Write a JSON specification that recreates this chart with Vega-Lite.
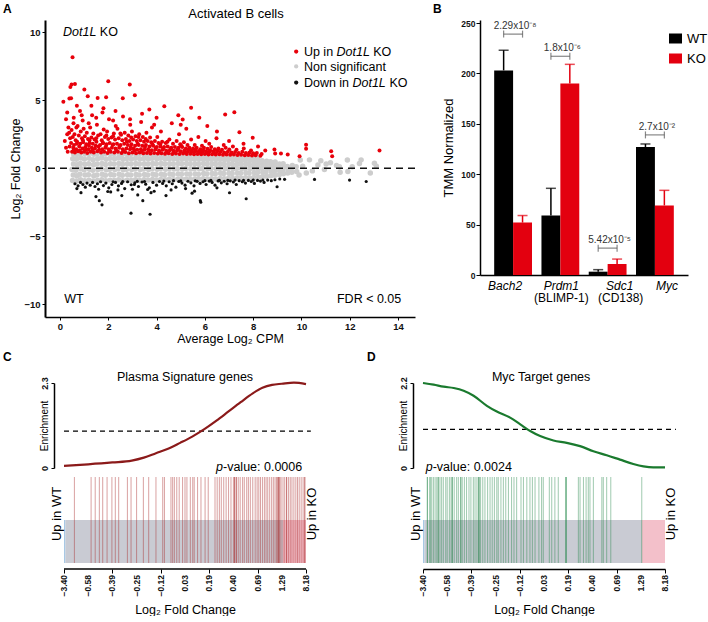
{
"$schema": "https://vega.github.io/schema/vega-lite/v6.json",
"padding": {"left": 2, "top": 3, "right": 0, "bottom": 0},
"config": {
 "font": "Liberation Sans",
 "view": {"stroke": null},
 "axis": {"grid": false, "domainColor": "#000", "tickColor": "#000", "labelColor": "#111", "titleColor": "#000", "titleFontWeight": "normal", "labelFontWeight": "bold", "labelFont": "Liberation Sans", "titleFont": "Liberation Sans"}
},
"datasets": {
 "ns": [
{"x":0.52,"y":-0.9},{"x":0.55,"y":-0.5},{"x":0.5,"y":-0.1},{"x":0.56,"y":0.3},{"x":0.53,"y":0.7},{"x":0.57,"y":1.02},
{"x":0.68,"y":-0.95},{"x":0.7,"y":-0.55},{"x":0.66,"y":-0.15},{"x":0.71,"y":0.25},{"x":0.68,"y":0.65},{"x":0.7,"y":1.0},
{"x":0.85,"y":-0.85},{"x":0.83,"y":-0.45},{"x":0.87,"y":-0.05},{"x":0.84,"y":0.35},{"x":0.86,"y":0.75},{"x":0.83,"y":1.08},
{"x":1.02,"y":-0.92},{"x":1.04,"y":-0.5},{"x":1.0,"y":-0.12},{"x":1.03,"y":0.28},{"x":1.01,"y":0.68},{"x":1.04,"y":1.05},
{"x":1.2,"y":-0.88},{"x":1.18,"y":-0.48},{"x":1.22,"y":-0.08},{"x":1.19,"y":0.32},{"x":1.21,"y":0.72},{"x":1.18,"y":1.06},
{"x":1.38,"y":-0.95},{"x":1.4,"y":-0.55},{"x":1.36,"y":-0.15},{"x":1.39,"y":0.25},{"x":1.37,"y":0.62},{"x":1.4,"y":1.02},
{"x":1.55,"y":-0.9},{"x":1.53,"y":-0.5},{"x":1.57,"y":-0.1},{"x":1.54,"y":0.3},{"x":1.56,"y":0.7},{"x":1.53,"y":1.05},
{"x":1.73,"y":-0.85},{"x":1.75,"y":-0.45},{"x":1.71,"y":-0.05},{"x":1.74,"y":0.35},{"x":1.72,"y":0.75},{"x":1.75,"y":1.0},
{"x":1.9,"y":-0.93},{"x":1.88,"y":-0.52},{"x":1.92,"y":-0.12},{"x":1.89,"y":0.27},{"x":1.91,"y":0.66},{"x":1.88,"y":1.04},
{"x":2.08,"y":-0.88},{"x":2.1,"y":-0.47},{"x":2.06,"y":-0.08},{"x":2.09,"y":0.33},{"x":2.07,"y":0.72},{"x":2.1,"y":1.05},
{"x":2.25,"y":-0.9},{"x":2.23,"y":-0.5},{"x":2.27,"y":-0.1},{"x":2.24,"y":0.3},{"x":2.26,"y":0.7},{"x":2.23,"y":1.02},
{"x":2.43,"y":-0.86},{"x":2.45,"y":-0.45},{"x":2.41,"y":-0.05},{"x":2.44,"y":0.35},{"x":2.42,"y":0.74},{"x":2.45,"y":1.04},
{"x":2.6,"y":-0.92},{"x":2.58,"y":-0.52},{"x":2.62,"y":-0.12},{"x":2.59,"y":0.28},{"x":2.61,"y":0.66},{"x":2.58,"y":1.0},
{"x":2.78,"y":-0.88},{"x":2.8,"y":-0.48},{"x":2.76,"y":-0.08},{"x":2.79,"y":0.32},{"x":2.77,"y":0.71},{"x":2.8,"y":1.03},
{"x":2.95,"y":-0.9},{"x":2.93,"y":-0.5},{"x":2.97,"y":-0.1},{"x":2.94,"y":0.3},{"x":2.96,"y":0.68},{"x":2.93,"y":1.02},
{"x":3.13,"y":-0.85},{"x":3.15,"y":-0.46},{"x":3.11,"y":-0.06},{"x":3.14,"y":0.34},{"x":3.12,"y":0.72},{"x":3.15,"y":1.0},
{"x":3.3,"y":-0.9},{"x":3.28,"y":-0.5},{"x":3.32,"y":-0.1},{"x":3.29,"y":0.3},{"x":3.31,"y":0.68},{"x":3.28,"y":1.02},
{"x":3.48,"y":-0.86},{"x":3.5,"y":-0.47},{"x":3.46,"y":-0.07},{"x":3.49,"y":0.33},{"x":3.47,"y":0.71},{"x":3.5,"y":0.98},
{"x":3.65,"y":-0.88},{"x":3.63,"y":-0.5},{"x":3.67,"y":-0.1},{"x":3.64,"y":0.3},{"x":3.66,"y":0.68},{"x":3.63,"y":1.0},
{"x":3.83,"y":-0.84},{"x":3.85,"y":-0.45},{"x":3.81,"y":-0.05},{"x":3.84,"y":0.35},{"x":3.82,"y":0.72},{"x":3.85,"y":0.97},
{"x":4.0,"y":-0.87},{"x":3.98,"y":-0.48},{"x":4.02,"y":-0.08},{"x":3.99,"y":0.32},{"x":4.01,"y":0.7},{"x":3.98,"y":0.98},
{"x":4.18,"y":-0.83},{"x":4.2,"y":-0.44},{"x":4.16,"y":-0.04},{"x":4.19,"y":0.34},{"x":4.17,"y":0.72},{"x":4.2,"y":0.95},
{"x":4.35,"y":-0.86},{"x":4.33,"y":-0.48},{"x":4.37,"y":-0.08},{"x":4.34,"y":0.3},{"x":4.36,"y":0.67},{"x":4.33,"y":0.96},
{"x":4.53,"y":-0.82},{"x":4.55,"y":-0.43},{"x":4.51,"y":-0.05},{"x":4.54,"y":0.33},{"x":4.52,"y":0.7},{"x":4.55,"y":0.94},
{"x":4.7,"y":-0.85},{"x":4.68,"y":-0.46},{"x":4.72,"y":-0.07},{"x":4.69,"y":0.31},{"x":4.71,"y":0.68},{"x":4.68,"y":0.95},
{"x":4.88,"y":-0.82},{"x":4.9,"y":-0.43},{"x":4.86,"y":-0.04},{"x":4.89,"y":0.34},{"x":4.87,"y":0.7},{"x":4.9,"y":0.92},
{"x":5.05,"y":-0.84},{"x":5.03,"y":-0.45},{"x":5.07,"y":-0.06},{"x":5.04,"y":0.32},{"x":5.06,"y":0.68},{"x":5.03,"y":0.94},
{"x":5.23,"y":-0.8},{"x":5.25,"y":-0.42},{"x":5.21,"y":-0.03},{"x":5.24,"y":0.34},{"x":5.22,"y":0.69},{"x":5.25,"y":0.91},
{"x":5.4,"y":-0.83},{"x":5.38,"y":-0.44},{"x":5.42,"y":-0.06},{"x":5.39,"y":0.3},{"x":5.41,"y":0.66},{"x":5.38,"y":0.93},
{"x":5.58,"y":-0.8},{"x":5.6,"y":-0.42},{"x":5.56,"y":-0.04},{"x":5.59,"y":0.33},{"x":5.57,"y":0.68},{"x":5.6,"y":0.9},
{"x":5.75,"y":-0.82},{"x":5.73,"y":-0.44},{"x":5.77,"y":-0.05},{"x":5.74,"y":0.31},{"x":5.76,"y":0.66},{"x":5.73,"y":0.92},
{"x":5.93,"y":-0.78},{"x":5.95,"y":-0.4},{"x":5.91,"y":-0.02},{"x":5.94,"y":0.34},{"x":5.92,"y":0.68},{"x":5.95,"y":0.89},
{"x":6.1,"y":-0.8},{"x":6.08,"y":-0.42},{"x":6.12,"y":-0.05},{"x":6.09,"y":0.3},{"x":6.11,"y":0.64},{"x":6.08,"y":0.9},
{"x":6.28,"y":-0.77},{"x":6.3,"y":-0.4},{"x":6.26,"y":-0.03},{"x":6.29,"y":0.32},{"x":6.27,"y":0.66},{"x":6.3,"y":0.87},
{"x":6.45,"y":-0.79},{"x":6.43,"y":-0.41},{"x":6.47,"y":-0.05},{"x":6.44,"y":0.3},{"x":6.46,"y":0.63},{"x":6.43,"y":0.88},
{"x":6.63,"y":-0.76},{"x":6.65,"y":-0.38},{"x":6.61,"y":-0.02},{"x":6.64,"y":0.32},{"x":6.62,"y":0.65},{"x":6.65,"y":0.85},
{"x":6.8,"y":-0.78},{"x":6.78,"y":-0.4},{"x":6.82,"y":-0.04},{"x":6.79,"y":0.29},{"x":6.81,"y":0.62},{"x":6.78,"y":0.86},
{"x":6.98,"y":-0.75},{"x":7.0,"y":-0.38},{"x":6.96,"y":-0.02},{"x":6.99,"y":0.31},{"x":6.97,"y":0.63},{"x":7.0,"y":0.84},
{"x":7.15,"y":-0.76},{"x":7.13,"y":-0.39},{"x":7.17,"y":-0.04},{"x":7.14,"y":0.28},{"x":7.16,"y":0.6},{"x":7.13,"y":0.84},
{"x":7.33,"y":-0.73},{"x":7.35,"y":-0.36},{"x":7.31,"y":-0.01},{"x":7.34,"y":0.3},{"x":7.32,"y":0.62},{"x":7.35,"y":0.82},
{"x":7.5,"y":-0.74},{"x":7.48,"y":-0.37},{"x":7.52,"y":-0.03},{"x":7.49,"y":0.28},{"x":7.51,"y":0.58},{"x":7.48,"y":0.8},
{"x":7.68,"y":-0.7},{"x":7.7,"y":-0.34},{"x":7.66,"y":0.0},{"x":7.69,"y":0.3},{"x":7.67,"y":0.6},{"x":7.7,"y":0.78},
{"x":7.85,"y":-0.72},{"x":7.83,"y":-0.36},{"x":7.87,"y":-0.02},{"x":7.84,"y":0.27},{"x":7.86,"y":0.56},{"x":7.83,"y":0.8},
{"x":8.03,"y":-0.68},{"x":8.05,"y":-0.33},{"x":8.01,"y":0.0},{"x":8.04,"y":0.28},{"x":8.02,"y":0.58},{"x":8.05,"y":0.76},
{"x":8.2,"y":-0.66},{"x":8.18,"y":-0.32},{"x":8.22,"y":-0.02},{"x":8.19,"y":0.26},{"x":8.21,"y":0.54},{"x":8.18,"y":0.74},
{"x":8.38,"y":-0.64},{"x":8.4,"y":-0.3},{"x":8.36,"y":0.0},{"x":8.39,"y":0.28},{"x":8.37,"y":0.55},
{"x":8.55,"y":-0.6},{"x":8.53,"y":-0.28},{"x":8.57,"y":-0.02},{"x":8.54,"y":0.25},{"x":8.56,"y":0.5},
{"x":8.73,"y":-0.56},{"x":8.75,"y":-0.25},{"x":8.71,"y":0.02},{"x":8.74,"y":0.26},{"x":8.72,"y":0.48},
{"x":8.9,"y":-0.52},{"x":8.88,"y":-0.22},{"x":8.92,"y":0.0},{"x":8.89,"y":0.24},{"x":8.91,"y":0.45},
{"x":9.08,"y":-0.48},{"x":9.1,"y":-0.2},{"x":9.06,"y":0.04},{"x":9.09,"y":0.3},
{"x":9.25,"y":-0.42},{"x":9.23,"y":-0.15},{"x":9.27,"y":0.08},{"x":9.24,"y":0.32},
{"x":9.43,"y":-0.35},{"x":9.45,"y":-0.1},{"x":9.41,"y":0.12},
{"x":9.6,"y":-0.3},{"x":9.58,"y":0.0},{"x":9.62,"y":0.2},
{"x":9.8,"y":-0.25},{"x":9.78,"y":0.1},
{"x":10.05,"y":0.15},{"x":10.2,"y":-0.35},{"x":10.33,"y":0.61},{"x":10.45,"y":-0.2},{"x":10.68,"y":0.24},{"x":10.8,"y":0.55},{"x":10.95,"y":-0.1},{"x":11.02,"y":0.3},{"x":11.2,"y":0.4},{"x":11.45,"y":0.2},{"x":11.57,"y":0.11},{"x":11.6,"y":-0.3},{"x":11.92,"y":-0.25},{"x":11.9,"y":0.6},{"x":12.1,"y":0.1},{"x":12.47,"y":0.61},{"x":12.4,"y":0.35},{"x":12.85,"y":-0.35},{"x":13.02,"y":0.36},{"x":13.1,"y":0.15},{"x":9.95,"y":0.6},{"x":9.9,"y":-0.5}
 ],
 "up": [
{"x":0.5,"y":1.2},{"x":0.55,"y":1.5},{"x":0.46,"y":1.85},{"x":0.53,"y":2.3},{"x":0.48,"y":2.8},{"x":0.56,"y":3.3},
{"x":0.62,"y":1.15},{"x":0.67,"y":1.4},{"x":0.58,"y":1.7},{"x":0.65,"y":2.05},{"x":0.6,"y":2.5},{"x":0.68,"y":3.0},{"x":0.57,"y":3.7},
{"x":0.75,"y":1.25},{"x":0.8,"y":1.6},{"x":0.71,"y":1.95},{"x":0.78,"y":2.4},{"x":0.73,"y":3.1},
{"x":0.88,"y":1.15},{"x":0.93,"y":1.45},{"x":0.84,"y":1.8},{"x":0.91,"y":2.2},{"x":0.86,"y":2.7},{"x":0.94,"y":3.5},{"x":0.83,"y":4.2},
{"x":1.0,"y":1.2},{"x":1.05,"y":1.55},{"x":0.96,"y":1.9},{"x":1.03,"y":2.35},{"x":0.98,"y":2.9},
{"x":1.13,"y":1.12},{"x":1.18,"y":1.4},{"x":1.09,"y":1.75},{"x":1.16,"y":2.15},{"x":1.11,"y":2.6},{"x":1.19,"y":3.3},
{"x":1.27,"y":1.2},{"x":1.32,"y":1.5},{"x":1.23,"y":1.85},{"x":1.3,"y":2.25},{"x":1.25,"y":3.0},{"x":1.33,"y":3.9},
{"x":1.4,"y":1.15},{"x":1.45,"y":1.45},{"x":1.36,"y":1.8},{"x":1.43,"y":2.1},{"x":1.38,"y":2.55},
{"x":1.55,"y":1.25},{"x":1.6,"y":1.6},{"x":1.51,"y":1.95},{"x":1.58,"y":2.4},{"x":1.53,"y":3.2},
{"x":1.7,"y":1.15},{"x":1.75,"y":1.4},{"x":1.66,"y":1.7},{"x":1.73,"y":2.05},{"x":1.68,"y":2.5},{"x":1.76,"y":4.1},
{"x":1.83,"y":1.2},{"x":1.88,"y":1.5},{"x":1.79,"y":1.85},{"x":1.86,"y":2.3},{"x":1.81,"y":2.85},
{"x":1.97,"y":1.12},{"x":2.02,"y":1.4},{"x":1.93,"y":1.75},{"x":2.0,"y":2.15},{"x":1.95,"y":2.7},{"x":2.03,"y":3.6},
{"x":2.1,"y":1.2},{"x":2.15,"y":1.5},{"x":2.06,"y":1.85},{"x":2.13,"y":2.25},
{"x":2.25,"y":1.15},{"x":2.3,"y":1.45},{"x":2.21,"y":1.75},{"x":2.28,"y":2.1},{"x":2.23,"y":2.55},{"x":2.31,"y":3.1},
{"x":2.4,"y":1.2},{"x":2.45,"y":1.5},{"x":2.36,"y":1.8},{"x":2.43,"y":2.2},{"x":2.38,"y":2.9},
{"x":2.55,"y":1.12},{"x":2.6,"y":1.4},{"x":2.51,"y":1.7},{"x":2.58,"y":2.05},{"x":2.53,"y":2.45},{"x":2.61,"y":3.8},
{"x":2.7,"y":1.18},{"x":2.75,"y":1.45},{"x":2.66,"y":1.8},{"x":2.73,"y":2.15},{"x":2.68,"y":2.6},
{"x":2.85,"y":1.1},{"x":2.9,"y":1.4},{"x":2.81,"y":1.7},{"x":2.88,"y":2.0},{"x":2.83,"y":2.4},{"x":2.91,"y":3.2},
{"x":3.0,"y":1.15},{"x":3.05,"y":1.45},{"x":2.96,"y":1.75},{"x":3.03,"y":2.1},{"x":2.98,"y":2.7},
{"x":3.15,"y":1.1},{"x":3.2,"y":1.35},{"x":3.11,"y":1.65},{"x":3.18,"y":2.0},{"x":3.13,"y":2.35},
{"x":3.3,"y":1.15},{"x":3.35,"y":1.4},{"x":3.26,"y":1.7},{"x":3.33,"y":2.05},{"x":3.28,"y":2.5},{"x":3.36,"y":3.4},
{"x":3.45,"y":1.1},{"x":3.5,"y":1.35},{"x":3.41,"y":1.65},{"x":3.48,"y":1.95},{"x":3.43,"y":2.3},
{"x":3.6,"y":1.12},{"x":3.65,"y":1.4},{"x":3.56,"y":1.7},{"x":3.63,"y":2.0},{"x":3.58,"y":2.6},
{"x":3.75,"y":1.08},{"x":3.8,"y":1.32},{"x":3.71,"y":1.6},{"x":3.78,"y":1.9},{"x":3.73,"y":2.25},{"x":3.81,"y":3.0},
{"x":3.9,"y":1.12},{"x":3.95,"y":1.38},{"x":3.86,"y":1.65},{"x":3.93,"y":2.0},
{"x":4.05,"y":1.08},{"x":4.1,"y":1.3},{"x":4.01,"y":1.55},{"x":4.08,"y":1.85},{"x":4.03,"y":2.3},
{"x":4.2,"y":1.1},{"x":4.25,"y":1.35},{"x":4.16,"y":1.6},{"x":4.23,"y":1.95},{"x":4.18,"y":2.7},
{"x":4.35,"y":1.06},{"x":4.4,"y":1.28},{"x":4.31,"y":1.55},{"x":4.38,"y":1.85},
{"x":4.5,"y":1.1},{"x":4.55,"y":1.32},{"x":4.46,"y":1.6},{"x":4.53,"y":2.1},
{"x":4.65,"y":1.05},{"x":4.7,"y":1.28},{"x":4.61,"y":1.5},{"x":4.68,"y":1.8},{"x":4.63,"y":3.3},
{"x":4.8,"y":1.08},{"x":4.85,"y":1.3},{"x":4.76,"y":1.55},{"x":4.83,"y":2.0},
{"x":4.95,"y":1.05},{"x":5.0,"y":1.25},{"x":4.91,"y":1.5},{"x":4.98,"y":1.75},{"x":4.93,"y":2.5},
{"x":5.1,"y":1.08},{"x":5.15,"y":1.3},{"x":5.06,"y":1.55},{"x":5.13,"y":1.9},
{"x":5.25,"y":1.04},{"x":5.3,"y":1.25},{"x":5.21,"y":1.45},{"x":5.28,"y":1.7},{"x":5.23,"y":2.9},
{"x":5.4,"y":1.06},{"x":5.45,"y":1.28},{"x":5.36,"y":1.5},{"x":5.43,"y":2.1},
{"x":5.55,"y":1.03},{"x":5.6,"y":1.22},{"x":5.51,"y":1.45},{"x":5.58,"y":1.7},
{"x":5.7,"y":1.05},{"x":5.75,"y":1.25},{"x":5.66,"y":1.5},{"x":5.73,"y":2.3},
{"x":5.85,"y":1.02},{"x":5.9,"y":1.2},{"x":5.81,"y":1.4},{"x":5.88,"y":1.65},
{"x":6.0,"y":1.04},{"x":6.05,"y":1.25},{"x":5.96,"y":1.5},{"x":6.03,"y":2.0},
{"x":6.15,"y":1.0},{"x":6.2,"y":1.2},{"x":6.11,"y":1.42},{"x":6.18,"y":1.8},
{"x":6.3,"y":1.03},{"x":6.35,"y":1.22},{"x":6.26,"y":1.55},
{"x":6.45,"y":1.0},{"x":6.5,"y":1.18},{"x":6.41,"y":1.4},{"x":6.48,"y":2.2},
{"x":6.6,"y":1.02},{"x":6.65,"y":1.2},{"x":6.56,"y":1.45},
{"x":6.75,"y":0.98},{"x":6.8,"y":1.15},{"x":6.71,"y":1.35},{"x":6.78,"y":1.7},
{"x":6.9,"y":1.0},{"x":6.95,"y":1.2},{"x":6.86,"y":1.5},
{"x":7.05,"y":0.98},{"x":7.1,"y":1.15},{"x":7.01,"y":1.38},
{"x":7.2,"y":1.0},{"x":7.25,"y":1.18},{"x":7.16,"y":1.6},
{"x":7.35,"y":0.96},{"x":7.4,"y":1.12},{"x":7.31,"y":1.35},
{"x":7.5,"y":0.98},{"x":7.55,"y":1.2},
{"x":7.65,"y":0.95},{"x":7.7,"y":1.12},{"x":7.61,"y":1.45},
{"x":7.8,"y":0.96},{"x":7.85,"y":1.15},
{"x":7.95,"y":0.94},{"x":8.0,"y":1.1},{"x":7.91,"y":1.3},
{"x":8.1,"y":0.95},{"x":8.15,"y":1.12},
{"x":8.3,"y":0.92},{"x":8.35,"y":1.05},
{"x":0.57,"y":1.33},{"x":0.7,"y":1.8},{"x":0.82,"y":1.3},{"x":0.95,"y":2.05},{"x":1.07,"y":1.35},{"x":1.2,"y":1.65},{"x":1.22,"y":2.05},{"x":1.35,"y":1.3},{"x":1.48,"y":1.65},{"x":1.5,"y":2.2},{"x":1.62,"y":1.35},{"x":1.77,"y":1.85},{"x":1.9,"y":1.6},{"x":1.92,"y":2.4},{"x":2.05,"y":1.3},{"x":2.18,"y":1.7},{"x":2.2,"y":2.35},{"x":2.33,"y":1.3},{"x":2.47,"y":1.65},{"x":2.5,"y":2.55},{"x":2.62,"y":1.25},{"x":2.77,"y":1.95},{"x":2.93,"y":1.55},{"x":2.95,"y":2.25},{"x":3.08,"y":1.3},{"x":3.22,"y":1.8},{"x":3.25,"y":2.3},{"x":3.38,"y":1.25},{"x":3.52,"y":1.55},{"x":3.55,"y":2.15},{"x":3.68,"y":1.28},{"x":3.83,"y":1.75},{"x":3.97,"y":1.5},{"x":4.12,"y":1.2},{"x":4.15,"y":1.75},{"x":4.28,"y":1.45},{"x":4.42,"y":1.2},{"x":4.45,"y":1.95},{"x":4.58,"y":1.42},{"x":4.72,"y":1.18},{"x":4.88,"y":1.4},{"x":5.02,"y":1.65},{"x":5.18,"y":1.18},{"x":5.33,"y":1.38},{"x":5.48,"y":1.2},{"x":5.62,"y":1.35},{"x":5.78,"y":1.15},{"x":5.93,"y":1.32},{"x":6.08,"y":1.12},{"x":6.22,"y":1.32},{"x":6.38,"y":1.1},{"x":6.52,"y":1.3},{"x":0.4,"y":1.6},{"x":0.42,"y":2.2},{"x":0.38,"y":2.6},
{"x":0.52,"y":8.16},{"x":0.43,"y":5.98},{"x":0.62,"y":6.2},{"x":0.48,"y":6.15},{"x":1.01,"y":5.78},{"x":0.14,"y":4.88},{"x":0.39,"y":5.12},{"x":0.46,"y":5.15},{"x":2.0,"y":6.4},{"x":2.89,"y":6.15},{"x":1.56,"y":5.17},{"x":1.91,"y":5.22},{"x":3.1,"y":5.37},{"x":2.6,"y":5.15},{"x":1.15,"y":5.29},{"x":4.32,"y":4.56},{"x":3.7,"y":4.31},{"x":5.43,"y":4.44},{"x":6.84,"y":3.95},{"x":7.22,"y":4.12},{"x":5.77,"y":3.7},{"x":5.08,"y":3.58},{"x":7.43,"y":2.65},{"x":7.98,"y":2.23},{"x":8.88,"y":1.37},{"x":8.91,"y":1.08},{"x":9.43,"y":1.0},{"x":10.19,"y":1.72},{"x":10.19,"y":1.42},{"x":11.23,"y":1.25},{"x":11.27,"y":0.88},{"x":13.23,"y":1.3},{"x":9.92,"y":0.88},{"x":9.15,"y":1.08},
{"x":0.3,"y":4.1},{"x":0.25,"y":3.6},{"x":0.35,"y":3.0},{"x":0.3,"y":2.5},{"x":0.7,"y":4.6},{"x":1.3,"y":4.6},{"x":1.8,"y":4.4},{"x":2.3,"y":4.2},{"x":3.4,"y":4.0},{"x":4.0,"y":3.7},{"x":4.9,"y":3.9},{"x":6.1,"y":3.1},{"x":6.5,"y":2.7},{"x":5.0,"y":3.2},{"x":3.9,"y":3.2},{"x":2.9,"y":3.6},{"x":2.2,"y":3.5},{"x":1.5,"y":3.7},{"x":0.9,"y":3.9},{"x":0.2,"y":2.0},{"x":0.25,"y":1.5},{"x":0.32,"y":1.2},{"x":7.0,"y":2.0},{"x":7.6,"y":1.8},{"x":8.5,"y":1.3},{"x":8.2,"y":1.6}
 ],
 "dn": [
{"x":0.62,"y":-1.15},{"x":0.75,"y":-1.3},{"x":0.85,"y":-1.05},{"x":0.95,"y":-1.2},{"x":1.05,"y":-1.4},{"x":1.12,"y":-1.1},{"x":1.25,"y":-1.25},{"x":1.35,"y":-1.05},{"x":1.45,"y":-1.35},{"x":1.55,"y":-1.15},{"x":1.68,"y":-1.0},{"x":1.8,"y":-1.28},{"x":1.9,"y":-1.1},{"x":2.02,"y":-1.45},{"x":2.15,"y":-1.2},{"x":2.3,"y":-1.05},{"x":2.42,"y":-1.3},{"x":2.55,"y":-1.12},{"x":2.68,"y":-1.5},{"x":2.8,"y":-1.0},{"x":2.95,"y":-1.22},{"x":3.1,"y":-1.08},{"x":3.25,"y":-1.35},{"x":3.4,"y":-1.02},{"x":3.55,"y":-1.18},{"x":3.7,"y":-1.45},{"x":3.85,"y":-1.05},{"x":4.0,"y":-1.25},{"x":4.12,"y":-0.98},{"x":4.25,"y":-1.12},{"x":4.4,"y":-1.3},{"x":4.52,"y":-1.0},{"x":4.65,"y":-1.15},{"x":4.8,"y":-1.4},{"x":4.92,"y":-0.98},{"x":5.05,"y":-1.1},{"x":5.18,"y":-1.25},{"x":5.3,"y":-0.96},{"x":5.42,"y":-1.08},{"x":5.55,"y":-1.3},{"x":5.68,"y":-0.97},{"x":5.8,"y":-1.12},{"x":5.92,"y":-1.0},{"x":6.05,"y":-1.2},{"x":6.18,"y":-0.95},{"x":6.3,"y":-1.05},{"x":6.42,"y":-1.25},{"x":6.55,"y":-0.94},{"x":6.68,"y":-1.08},{"x":6.8,"y":-0.96},{"x":6.92,"y":-1.15},{"x":7.05,"y":-0.93},{"x":7.18,"y":-1.02},{"x":7.3,"y":-1.2},{"x":7.42,"y":-0.92},{"x":7.55,"y":-1.0},{"x":7.68,"y":-1.1},{"x":7.8,"y":-0.9},{"x":7.92,"y":-0.98},{"x":8.05,"y":-1.12},{"x":8.18,"y":-0.9},{"x":8.3,"y":-0.95},{"x":8.45,"y":-1.05},{"x":8.6,"y":-0.88},{"x":8.75,"y":-0.92},{"x":8.9,"y":-0.85},{"x":9.1,"y":-0.8},{"x":9.3,"y":-0.82},{"x":1.6,"y":-1.55},{"x":2.4,"y":-1.6},{"x":3.0,"y":-1.55},{"x":4.6,"y":-1.6},{"x":5.2,"y":-1.5},{"x":6.5,"y":-1.45},{"x":0.7,"y":-1.5},{"x":3.9,"y":-1.7},{"x":2.1,"y":-1.75},
{"x":4.3,"y":-0.95},{"x":4.7,"y":-0.92},{"x":5.0,"y":-0.94},{"x":5.6,"y":-0.93},{"x":6.0,"y":-0.92},{"x":6.25,"y":-0.9},{"x":6.6,"y":-0.9},{"x":6.95,"y":-0.9},{"x":7.25,"y":-0.88},{"x":7.6,"y":-0.9},{"x":8.0,"y":-0.88},{"x":8.4,"y":-0.87},{"x":3.5,"y":-0.98},{"x":3.2,"y":-0.97},{"x":2.6,"y":-0.98},{"x":2.2,"y":-1.0},
{"x":0.87,"y":-1.8},{"x":1.49,"y":-2.09},{"x":1.63,"y":-2.39},{"x":1.74,"y":-2.7},{"x":2.94,"y":-3.31},{"x":3.73,"y":-3.39},{"x":1.98,"y":-1.72},{"x":2.56,"y":-2.02},{"x":3.22,"y":-1.97},{"x":3.43,"y":-2.39},{"x":3.77,"y":-1.8},{"x":4.39,"y":-2.02},{"x":5.47,"y":-1.84},{"x":5.81,"y":-2.39},{"x":5.83,"y":-2.5},{"x":7.71,"y":-2.25},{"x":8.99,"y":-1.37},{"x":11.99,"y":-0.88},{"x":12.68,"y":-0.98},{"x":10.54,"y":-0.83},{"x":7.02,"y":-1.81},{"x":5.57,"y":-1.69},{"x":3.63,"y":-1.57},{"x":3.08,"y":-1.2}
 ],
 "bars": [
{"g":"Bach2","grp":"WT","v":203,"e":223},{"g":"Bach2","grp":"KO","v":52,"e":59},
{"g":"Prdm1","grp":"WT","v":59,"e":86},{"g":"Prdm1","grp":"KO","v":190,"e":209},
{"g":"Sdc1","grp":"WT","v":3.3,"e":5.3},{"g":"Sdc1","grp":"KO","v":10.9,"e":15.8},
{"g":"Myc","grp":"WT","v":127,"e":130},{"g":"Myc","grp":"KO","v":69,"e":84}
 ],
 "brk": [
{"g":"Bach2","b":239,"lab":"2.29x10⁻⁸"},{"g":"Prdm1","b":217,"lab":"1.8x10⁻⁶"},{"g":"Sdc1","b":26.6,"lab":"5.42x10⁻⁵"},{"g":"Myc","b":139,"lab":"2.7x10⁻²"}
 ],
 "brkEnd": [
{"g":"Bach2","grp":"WT","b":239},{"g":"Bach2","grp":"KO","b":239},{"g":"Prdm1","grp":"WT","b":217},{"g":"Prdm1","grp":"KO","b":217},
{"g":"Sdc1","grp":"WT","b":26.6},{"g":"Sdc1","grp":"KO","b":26.6},{"g":"Myc","grp":"WT","b":139},{"g":"Myc","grp":"KO","b":139}
 ],
 "seg": [{"a":0,"b":0.06,"k":"dn"},{"a":0.06,"b":9.05,"k":"ns"},{"a":9.05,"b":10,"k":"up"}],
 "upLab": [{"x":-0.27,"y":0.57,"t":"Up in WT"},{"x":10.26,"y":0.57,"t":"Up in KO"}],
 "tickLab": [{"r":0,"y":-0.14,"t":"−3.40"},{"r":1,"y":-0.14,"t":"−0.58"},{"r":2,"y":-0.14,"t":"−0.39"},{"r":3,"y":-0.14,"t":"−0.25"},{"r":4,"y":-0.14,"t":"−0.12"},{"r":5,"y":-0.14,"t":"0.03"},{"r":6,"y":-0.14,"t":"0.19"},{"r":7,"y":-0.14,"t":"0.40"},{"r":8,"y":-0.14,"t":"0.69"},{"r":9,"y":-0.14,"t":"1.29"},{"r":10,"y":-0.14,"t":"8.18"}],
 "cCurve": [{"r":0,"e":0.06},{"r":1,"e":0.1},{"r":2,"e":0.15},{"r":2.8,"e":0.2},{"r":3.3,"e":0.28},{"r":3.8,"e":0.4},{"r":4.3,"e":0.52},{"r":4.8,"e":0.68},{"r":5.3,"e":0.85},{"r":5.8,"e":1.05},{"r":6.3,"e":1.28},{"r":6.8,"e":1.53},{"r":7.3,"e":1.78},{"r":7.8,"e":2.02},{"r":8.2,"e":2.17},{"r":8.6,"e":2.25},{"r":9.0,"e":2.28},{"r":9.5,"e":2.31},{"r":10,"e":2.27}],
 "dCurve": [{"r":0,"e":2.2},{"r":0.44,"e":2.157},{"r":0.85,"e":2.104},{"r":1.27,"e":2.07},{"r":1.68,"e":2.0},{"r":2.09,"e":1.87},{"r":2.64,"e":1.609},{"r":3.05,"e":1.461},{"r":3.6,"e":1.304},{"r":4.02,"e":1.13},{"r":4.43,"e":0.957},{"r":4.84,"e":0.826},{"r":5.39,"e":0.713},{"r":5.94,"e":0.652},{"r":6.49,"e":0.565},{"r":7.04,"e":0.435},{"r":7.59,"e":0.33},{"r":8.14,"e":0.217},{"r":8.69,"e":0.104},{"r":9.11,"e":0.043},{"r":9.52,"e":0.017},{"r":10,"e":0.017}],
 "cLines": [{"r":0.43},{"r":1.12},{"r":1.29},{"r":1.46},{"r":1.6},{"r":1.78},{"r":1.98},{"r":2.12},{"r":2.26},{"r":2.62},{"r":2.77},{"r":3.0},{"r":3.28},{"r":3.5},{"r":3.8},{"r":4.08},{"r":4.15},{"r":4.42},{"r":4.49},{"r":4.56},{"r":4.66},{"r":4.76},{"r":4.9},{"r":5.0},{"r":5.08},{"r":5.22},{"r":5.32},{"r":5.38},{"r":5.52},{"r":5.66},{"r":5.83},{"r":5.96},{"r":6.24},{"r":6.33},{"r":6.42},{"r":6.5},{"r":6.6},{"r":6.7},{"r":6.8},{"r":6.9},{"r":7.0},{"r":7.05},{"r":7.12},{"r":7.2},{"r":7.28},{"r":7.38},{"r":7.45},{"r":7.55},{"r":7.62},{"r":7.7},{"r":7.8},{"r":7.9},{"r":7.98},{"r":8.05},{"r":8.12},{"r":8.2},{"r":8.28},{"r":8.35},{"r":8.42},{"r":8.5},{"r":8.58},{"r":8.65},{"r":8.72},{"r":8.78},{"r":8.84},{"r":8.88},{"r":8.92},{"r":8.97},{"r":9.05},{"r":9.12},{"r":9.2},{"r":9.28},{"r":9.35},{"r":9.42},{"r":9.5},{"r":9.58},{"r":9.65},{"r":9.72},{"r":9.8},{"r":9.88},{"r":9.95},{"r":7.05},{"r":7.12},{"r":8.84},{"r":8.88},{"r":9.2},{"r":9.95}],
 "dLines": [{"r":0.18},{"r":0.29},{"r":0.36},{"r":0.43},{"r":0.5},{"r":0.57},{"r":0.63},{"r":0.7},{"r":0.77},{"r":0.84},{"r":0.94},{"r":1.0},{"r":1.09},{"r":1.16},{"r":1.21},{"r":1.29},{"r":1.39},{"r":1.46},{"r":1.56},{"r":1.62},{"r":1.71},{"r":1.8},{"r":1.9},{"r":1.98},{"r":2.08},{"r":2.15},{"r":2.23},{"r":2.31},{"r":2.38},{"r":2.47},{"r":2.56},{"r":2.67},{"r":2.77},{"r":2.86},{"r":2.95},{"r":3.05},{"r":3.11},{"r":3.22},{"r":3.32},{"r":3.42},{"r":3.53},{"r":3.66},{"r":3.76},{"r":3.87},{"r":4.05},{"r":4.15},{"r":4.29},{"r":4.42},{"r":4.52},{"r":4.63},{"r":4.79},{"r":4.9},{"r":4.97},{"r":5.22},{"r":5.32},{"r":5.45},{"r":5.59},{"r":5.91},{"r":6.42},{"r":6.49},{"r":6.63},{"r":6.74},{"r":6.83},{"r":6.9},{"r":7.04},{"r":7.39},{"r":7.45},{"r":7.59},{"r":7.76},{"r":9.04},{"r":0.18},{"r":0.29},{"r":0.63},{"r":1.21},{"r":2.31},{"r":2.31},{"r":5.91},{"r":5.91},{"r":1.56}]
},
"vconcat": [
 {"hconcat": [
  {"width": 370, "height": 297,
   "layer": [
    {"data": {"name": "ns"}, "mark": {"type": "circle", "size": 30, "color": "#cdcdcd", "opacity": 1},
     "encoding": {
      "x": {"field": "x", "type": "quantitative", "scale": {"domain": [-0.62, 14.7], "nice": false, "zero": false},
            "axis": {"values": [0,2,4,6,8,10,12,14], "tickSize": 3, "labelPadding": 1, "labelFontSize": 9.5, "domainWidth": 1.5, "title": "Average Log₂ CPM", "titleFontSize": 12.5, "titlePadding": 2}},
      "y": {"field": "y", "type": "quantitative", "scale": {"domain": [-10.95, 10.9], "nice": false, "zero": false},
            "axis": {"values": [-10,-5,0,5,10], "tickSize": 3, "labelPadding": 2, "labelFontSize": 9.5, "domainWidth": 2, "title": "Log₂ Fold Change", "titleFontSize": 12.5, "titlePadding": 1}}}},
    {"data": {"name": "up"}, "mark": {"type": "circle", "size": 16, "color": "#e8000b", "opacity": 1},
     "encoding": {"x": {"field": "x", "type": "quantitative"}, "y": {"field": "y", "type": "quantitative"}}},
    {"data": {"name": "dn"}, "mark": {"type": "circle", "size": 10, "color": "#111111", "opacity": 1},
     "encoding": {"x": {"field": "x", "type": "quantitative"}, "y": {"field": "y", "type": "quantitative"}}},
    {"data": {"values": [{"y": 0}]}, "mark": {"type": "rule", "strokeDash": [7, 5], "strokeWidth": 1.5, "color": "#111"},
     "encoding": {"y": {"field": "y", "type": "quantitative"}}},
    {"data": {"values": [{"x": 9.78, "y": 8.58, "k": "up"}, {"x": 9.78, "y": 7.48, "k": "ns"}, {"x": 9.78, "y": 6.3, "k": "dn"}]},
     "mark": {"type": "circle", "size": 18, "opacity": 1},
     "encoding": {"x": {"field": "x", "type": "quantitative"}, "y": {"field": "y", "type": "quantitative"},
      "color": {"field": "k", "type": "nominal", "scale": {"domain": ["up", "ns", "dn"], "range": ["#e8000b", "#cdcdcd", "#111111"]}, "legend": null}}},
    {"data": {"values": [{"x": 7.29, "y": 11.05, "t": "Activated B cells"}]},
     "mark": {"type": "text", "align": "center", "baseline": "alphabetic", "fontSize": 13, "color": "#000"},
     "encoding": {"x": {"field": "x", "type": "quantitative"}, "y": {"field": "y", "type": "quantitative"}, "text": {"field": "t", "type": "nominal"}}},
    {"data": {"values": [{"x": 1.65, "y": 9.72, "t": "KO"}, {"x": 0.18, "y": -9.93, "t": "WT"}, {"x": 10.1, "y": 8.25, "t": "Up in"}, {"x": 12.97, "y": 8.25, "t": "KO"}, {"x": 10.1, "y": 7.15, "t": "Non significant"}, {"x": 10.1, "y": 5.97, "t": "Down in"}, {"x": 13.64, "y": 5.97, "t": "KO"}]},
     "mark": {"type": "text", "align": "left", "baseline": "alphabetic", "fontSize": 12.5, "color": "#000"},
     "encoding": {"x": {"field": "x", "type": "quantitative"}, "y": {"field": "y", "type": "quantitative"}, "text": {"field": "t", "type": "nominal"}}},
    {"data": {"values": [{"x": 0.126, "y": 9.72, "t": "Dot1L"}, {"x": 11.45, "y": 8.25, "t": "Dot1L"}, {"x": 12.11, "y": 5.97, "t": "Dot1L"}]},
     "mark": {"type": "text", "align": "left", "baseline": "alphabetic", "fontSize": 12.5, "fontStyle": "italic", "color": "#000"},
     "encoding": {"x": {"field": "x", "type": "quantitative"}, "y": {"field": "y", "type": "quantitative"}, "text": {"field": "t", "type": "nominal"}}},
    {"data": {"values": [{"x": 14.13, "y": -9.93, "t": "FDR < 0.05"}]},
     "mark": {"type": "text", "align": "right", "baseline": "alphabetic", "fontSize": 12.5, "color": "#000"},
     "encoding": {"x": {"field": "x", "type": "quantitative"}, "y": {"field": "y", "type": "quantitative"}, "text": {"field": "t", "type": "nominal"}}},
    {"data": {"values": [{"x": -2.36, "y": 11.41, "t": "A"}]},
     "mark": {"type": "text", "align": "left", "baseline": "alphabetic", "fontSize": 12, "fontWeight": "bold", "color": "#000"},
     "encoding": {"x": {"field": "x", "type": "quantitative"}, "y": {"field": "y", "type": "quantitative"}, "text": {"field": "t", "type": "nominal"}}}
   ]},
  {"width": 208, "height": 255,
   "layer": [
    {"data": {"name": "bars"}, "mark": {"type": "bar"},
     "encoding": {
      "x": {"field": "g", "type": "nominal", "scale": {"domain": ["Bach2", "Prdm1", "Sdc1", "Myc"], "paddingInner": 0.2, "paddingOuter": 0.3},
            "axis": {"title": null, "labelAngle": 0, "labelFontStyle": "italic", "labelFontWeight": "normal", "labelFontSize": 12, "labelColor": "#000", "ticks": false, "labelPadding": 5, "domainWidth": 1.5,
                     "labelOffset": {"condition": [{"test": "datum.value === 'Bach2'", "value": -8}, {"test": "datum.value === 'Prdm1'", "value": 1}], "value": 12}}},
      "xOffset": {"field": "grp", "type": "nominal", "scale": {"domain": ["WT", "KO"], "paddingInner": 0, "paddingOuter": 0}},
      "y": {"field": "v", "type": "quantitative", "scale": {"domain": [0, 253], "nice": false},
            "axis": {"values": [0,50,100,150,200,250], "title": "TMM Normalized", "titleFontSize": 13, "titlePadding": 5, "labelFontSize": 8.5, "tickSize": 4, "domainWidth": 1.5, "labelPadding": 1}},
      "color": {"field": "grp", "type": "nominal", "scale": {"domain": ["WT", "KO"], "range": ["#000000", "#e3000f"]},
                "legend": {"orient": "none", "legendX": 189, "legendY": 12, "title": null, "symbolType": "M-1.3,-1H1.3V1H-1.3Z", "symbolSize": 100, "symbolStrokeWidth": 0, "labelFontSize": 13, "labelColor": "#000", "rowPadding": 6, "labelOffset": 5, "padding": 0}}}},
    {"data": {"name": "bars"}, "mark": {"type": "rule", "strokeWidth": 1.5},
     "encoding": {"x": {"field": "g", "type": "nominal"}, "xOffset": {"field": "grp", "type": "nominal"}, "y": {"field": "v", "type": "quantitative"}, "y2": {"field": "e"},
      "color": {"field": "grp", "type": "nominal", "legend": null}}},
    {"data": {"name": "bars"}, "mark": {"type": "tick", "size": 10, "thickness": 1.5},
     "encoding": {"x": {"field": "g", "type": "nominal"}, "xOffset": {"field": "grp", "type": "nominal"}, "y": {"field": "e", "type": "quantitative"},
      "color": {"field": "grp", "type": "nominal", "legend": null}}},
    {"data": {"name": "brk"}, "mark": {"type": "tick", "size": 19, "thickness": 1.2, "color": "#555"},
     "encoding": {"x": {"field": "g", "type": "nominal"}, "y": {"field": "b", "type": "quantitative"}}},
    {"data": {"name": "brkEnd"}, "mark": {"type": "tick", "orient": "vertical", "size": 7, "thickness": 1.2, "color": "#555"},
     "encoding": {"x": {"field": "g", "type": "nominal"}, "xOffset": {"field": "grp", "type": "nominal"}, "y": {"field": "b", "type": "quantitative"}}},
    {"data": {"name": "brk"}, "mark": {"type": "text", "baseline": "bottom", "dy": -3, "dx": 2, "fontSize": 10, "color": "#333"},
     "encoding": {"x": {"field": "g", "type": "nominal"}, "y": {"field": "b", "type": "quantitative"}, "text": {"field": "lab", "type": "nominal"}}},
    {"data": {"values": [{"g": "Prdm1", "t": "(BLIMP-1)"}]},
     "mark": {"type": "text", "baseline": "alphabetic", "dy": 27, "dx": 1, "fontSize": 12, "color": "#000"},
     "encoding": {"x": {"field": "g", "type": "nominal"}, "y": {"datum": 0, "type": "quantitative"}, "text": {"field": "t", "type": "nominal"}}},
    {"data": {"values": [{"g": "Sdc1", "t": "(CD138)"}]},
     "mark": {"type": "text", "baseline": "alphabetic", "dy": 27, "dx": 13, "fontSize": 12, "color": "#000"},
     "encoding": {"x": {"field": "g", "type": "nominal"}, "y": {"datum": 0, "type": "quantitative"}, "text": {"field": "t", "type": "nominal"}}},
    {"data": {"values": [{"g": "Bach2", "t": "B"}]},
     "mark": {"type": "text", "align": "left", "baseline": "alphabetic", "dx": -80, "dy": -7, "fontSize": 12, "fontWeight": "bold", "color": "#000"},
     "encoding": {"x": {"field": "g", "type": "nominal"}, "y": {"datum": 253, "type": "quantitative"}, "text": {"field": "t", "type": "nominal"}}}
   ]}
 ], "spacing": 65, "bounds": "flush", "resolve": {"scale": {"color": "independent"}}},
 {"hconcat": [
   {"vconcat": [
    {"width": 261, "height": 85,
     "layer": [
      {"data": {"values": [{"y": 1, "x0": 0, "x1": 10.2}]}, "mark": {"type": "rule", "strokeDash": [5, 4], "color": "#000", "strokeWidth": 1.2},
       "encoding": {"x": {"field": "x0", "type": "quantitative", "scale": {"domain": [-0.785, 10], "nice": false, "zero": false}, "axis": null}, "x2": {"field": "x1"},
        "y": {"field": "y", "type": "quantitative", "scale": {"domain": [0, 2.3], "nice": false},
              "axis": {"values": [0, 2.3], "labelExpr": "datum.value == 0 ? '0' : '2.3'", "labelAngle": -90, "offset": -9, "tickSize": 3, "labelFontSize": 9, "labelPadding": 2, "domainWidth": 1.5, "title": "Enrichment", "titleFontSize": 10, "titlePadding": -9}}}},
      {"data": {"name": "cCurve"}, "mark": {"type": "line", "color": "#8b1a1a", "strokeWidth": 2.2, "interpolate": "monotone"},
       "encoding": {"x": {"field": "r", "type": "quantitative"}, "y": {"field": "e", "type": "quantitative"}}},
      {"data": {"values": [{"x": 5.0, "y": 2.354, "t": "Plasma Signature genes"}]}, "mark": {"type": "text", "align": "center", "baseline": "alphabetic", "fontSize": 12.5, "color": "#000"},
       "encoding": {"x": {"field": "x", "type": "quantitative"}, "y": {"field": "y", "type": "quantitative"}, "text": {"field": "t", "type": "nominal"}}},
      {"data": {"values": [{"x": 6.28, "y": -0.08, "t": "p"}]}, "mark": {"type": "text", "align": "left", "baseline": "alphabetic", "fontSize": 12.5, "fontStyle": "italic", "color": "#000"},
       "encoding": {"x": {"field": "x", "type": "quantitative"}, "y": {"field": "y", "type": "quantitative"}, "text": {"field": "t", "type": "nominal"}}},
      {"data": {"values": [{"x": 6.57, "y": -0.08, "t": "-value: 0.0006"}]}, "mark": {"type": "text", "align": "left", "baseline": "alphabetic", "fontSize": 12.5, "color": "#000"},
       "encoding": {"x": {"field": "x", "type": "quantitative"}, "y": {"field": "y", "type": "quantitative"}, "text": {"field": "t", "type": "nominal"}}},
      {"data": {"values": [{"x": -2.52, "y": 2.9, "t": "C"}]}, "mark": {"type": "text", "align": "left", "baseline": "alphabetic", "fontSize": 12, "fontWeight": "bold", "color": "#000"},
       "encoding": {"x": {"field": "x", "type": "quantitative"}, "y": {"field": "y", "type": "quantitative"}, "text": {"field": "t", "type": "nominal"}}}
     ]},
    {"width": 261, "height": 86,
     "layer": [
      {"data": {"name": "seg"}, "mark": {"type": "rect"},
       "encoding": {
        "x": {"field": "a", "type": "quantitative", "scale": {"domain": [-0.785, 10], "nice": false, "zero": false},
              "axis": {"values": [0,1,2,3,4,5,6,7,8,9,10], "labels": false, "offset": 6, "tickSize": 4, "domain": false, "title": "Log₂ Fold Change", "titleFontSize": 12.5, "titlePadding": 30, "titleX": 140}},
        "x2": {"field": "b"},
        "y": {"datum": 0, "type": "quantitative", "scale": {"domain": [0, 1]}, "axis": null}, "y2": {"datum": 0.5},
        "color": {"field": "k", "type": "nominal", "scale": {"domain": ["dn", "ns", "up"], "range": ["#a8c8e4", "#c9cbd3", "#f3c0ca"]}, "legend": null}}},
      {"data": {"name": "cLines"}, "mark": {"type": "rule", "color": "#a52020", "opacity": 0.42, "strokeWidth": 1},
       "encoding": {"x": {"field": "r", "type": "quantitative"}}},
      {"data": {"values": [{"a": 0, "b": 10, "y": -0.07}]}, "mark": {"type": "rule", "color": "#000", "strokeWidth": 1.5},
       "encoding": {"x": {"field": "a", "type": "quantitative"}, "x2": {"field": "b"}, "y": {"field": "y", "type": "quantitative", "axis": null}}},
      {"data": {"name": "tickLab"}, "mark": {"type": "text", "angle": 270, "align": "right", "baseline": "middle", "fontSize": 8.5, "fontWeight": "bold", "color": "#111"},
       "encoding": {"x": {"field": "r", "type": "quantitative"}, "y": {"field": "y", "type": "quantitative", "axis": null}, "text": {"field": "t", "type": "nominal"}}},
      {"data": {"name": "upLab"}, "mark": {"type": "text", "angle": 270, "align": "center", "baseline": "middle", "fontSize": 13, "color": "#000"},
       "encoding": {"x": {"field": "x", "type": "quantitative"}, "y": {"field": "y", "type": "quantitative", "axis": null}, "text": {"field": "t", "type": "nominal"}}}
     ]}
   ], "spacing": 9, "bounds": "flush", "resolve": {"scale": {"color": "independent"}}},
   {"vconcat": [
    {"width": 242, "height": 85,
     "layer": [
      {"data": {"values": [{"y": 1, "x0": 0, "x1": 10.45}]}, "mark": {"type": "rule", "strokeDash": [5, 4], "color": "#000", "strokeWidth": 1.2},
       "encoding": {"x": {"field": "x0", "type": "quantitative", "scale": {"domain": [0, 10], "nice": false, "zero": false}, "axis": null}, "x2": {"field": "x1"},
        "y": {"field": "y", "type": "quantitative", "scale": {"domain": [0, 2.2], "nice": false},
              "axis": {"values": [0, 2.2], "labelExpr": "datum.value == 0 ? '0' : '2.2'", "labelAngle": -90, "offset": 10, "tickSize": 3, "labelFontSize": 9, "labelPadding": 2, "domainWidth": 1.5, "title": "Enrichment", "titleFontSize": 10, "titlePadding": -9}}}},
      {"data": {"name": "dCurve"}, "mark": {"type": "line", "color": "#1a7a2e", "strokeWidth": 2.2, "interpolate": "monotone"},
       "encoding": {"x": {"field": "r", "type": "quantitative"}, "y": {"field": "e", "type": "quantitative"}}},
      {"data": {"values": [{"x": 4.88, "y": 2.25, "t": "Myc Target genes"}]}, "mark": {"type": "text", "align": "center", "baseline": "alphabetic", "fontSize": 12.5, "color": "#000"},
       "encoding": {"x": {"field": "x", "type": "quantitative"}, "y": {"field": "y", "type": "quantitative"}, "text": {"field": "t", "type": "nominal"}}},
      {"data": {"values": [{"x": 0.11, "y": -0.08, "t": "p"}]}, "mark": {"type": "text", "align": "left", "baseline": "alphabetic", "fontSize": 12.5, "fontStyle": "italic", "color": "#000"},
       "encoding": {"x": {"field": "x", "type": "quantitative"}, "y": {"field": "y", "type": "quantitative"}, "text": {"field": "t", "type": "nominal"}}},
      {"data": {"values": [{"x": 0.4, "y": -0.08, "t": "-value: 0.0024"}]}, "mark": {"type": "text", "align": "left", "baseline": "alphabetic", "fontSize": 12.5, "color": "#000"},
       "encoding": {"x": {"field": "x", "type": "quantitative"}, "y": {"field": "y", "type": "quantitative"}, "text": {"field": "t", "type": "nominal"}}},
      {"data": {"values": [{"x": -2.31, "y": 2.77, "t": "D"}]}, "mark": {"type": "text", "align": "left", "baseline": "alphabetic", "fontSize": 12, "fontWeight": "bold", "color": "#000"},
       "encoding": {"x": {"field": "x", "type": "quantitative"}, "y": {"field": "y", "type": "quantitative"}, "text": {"field": "t", "type": "nominal"}}}
     ]},
    {"width": 242, "height": 86,
     "layer": [
      {"data": {"name": "seg"}, "mark": {"type": "rect"},
       "encoding": {
        "x": {"field": "a", "type": "quantitative", "scale": {"domain": [0, 10], "nice": false, "zero": false},
              "axis": {"values": [0,1,2,3,4,5,6,7,8,9,10], "labels": false, "offset": 6, "tickSize": 4, "domainWidth": 1.5, "title": "Log₂ Fold Change", "titleFontSize": 12.5, "titlePadding": 30}},
        "x2": {"field": "b"},
        "y": {"datum": 0, "type": "quantitative", "scale": {"domain": [0, 1]}, "axis": null}, "y2": {"datum": 0.5},
        "color": {"field": "k", "type": "nominal", "scale": {"domain": ["dn", "ns", "up"], "range": ["#a8c8e4", "#c9cbd3", "#f3c0ca"]}, "legend": null}}},
      {"data": {"name": "dLines"}, "mark": {"type": "rule", "color": "#1a8040", "opacity": 0.42, "strokeWidth": 1},
       "encoding": {"x": {"field": "r", "type": "quantitative"}}},
      {"data": {"name": "tickLab"}, "mark": {"type": "text", "angle": 270, "align": "right", "baseline": "middle", "fontSize": 8.5, "fontWeight": "bold", "color": "#111"},
       "encoding": {"x": {"field": "r", "type": "quantitative"}, "y": {"field": "y", "type": "quantitative", "axis": null}, "text": {"field": "t", "type": "nominal"}}},
      {"data": {"name": "upLab"}, "mark": {"type": "text", "angle": 270, "align": "center", "baseline": "middle", "fontSize": 13, "color": "#000"},
       "encoding": {"x": {"field": "x", "type": "quantitative"}, "y": {"field": "y", "type": "quantitative", "axis": null}, "text": {"field": "t", "type": "nominal"}}}
     ]}
   ], "spacing": 9, "bounds": "flush", "resolve": {"scale": {"color": "independent"}}}
 ], "spacing": 47, "resolve": {"scale": {"color": "independent"}}}
],
"spacing": 5,
"resolve": {"scale": {"color": "independent"}}
}
